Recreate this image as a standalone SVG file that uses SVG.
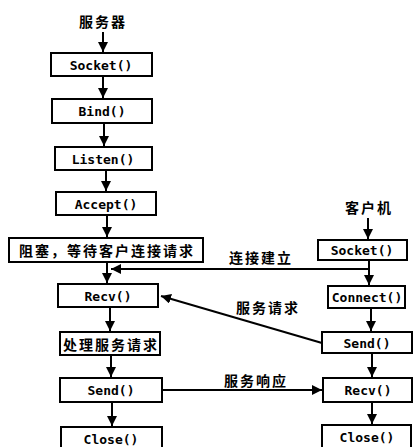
<svg xmlns="http://www.w3.org/2000/svg" width="414" height="447" viewBox="0 0 414 447">
<defs>
<marker id="ah" viewBox="0 0 10 10" refX="10" refY="5" markerWidth="10" markerHeight="10" markerUnits="userSpaceOnUse" orient="auto">
<path d="M0,0 L10,5 L0,10 Z" fill="#000"/>
</marker>
</defs>
<style>
.box{fill:#fff;stroke:#000;stroke-width:2}
.t{font-family:"DejaVu Sans Mono","Liberation Mono",monospace;font-weight:bold;font-size:13px;text-anchor:middle;dominant-baseline:central}
.c{font-family:"Noto Sans CJK SC",sans-serif;font-weight:bold;font-size:14px;letter-spacing:2px;text-anchor:middle;dominant-baseline:central}
.ln{stroke:#000;stroke-width:2;fill:none;marker-end:url(#ah)}
</style>
<rect width="414" height="447" fill="#fff"/>
<g id="connectors">
<line class="ln" x1="103" y1="32" x2="103" y2="52"/>
<line class="ln" x1="103" y1="76" x2="103" y2="98"/>
<line class="ln" x1="104" y1="123" x2="104" y2="146"/>
<line class="ln" x1="106" y1="170" x2="106" y2="191"/>
<line class="ln" x1="107" y1="215" x2="107" y2="237"/>
<line class="ln" x1="107" y1="262" x2="107" y2="283"/>
<line class="ln" x1="110" y1="307" x2="110" y2="331"/>
<line class="ln" x1="111" y1="355" x2="111" y2="377"/>
<line class="ln" x1="112" y1="402" x2="112" y2="426"/>
<line class="ln" x1="368" y1="218" x2="368" y2="239"/>
<line class="ln" x1="369" y1="260" x2="369" y2="285"/>
<line class="ln" x1="371" y1="308" x2="371" y2="331"/>
<line class="ln" x1="372" y1="353" x2="372" y2="377"/>
<line class="ln" x1="372" y1="402" x2="372" y2="424"/>
<line class="ln" x1="369" y1="269" x2="111" y2="269"/>
<line class="ln" x1="322" y1="343" x2="161" y2="296"/>
<line class="ln" x1="162" y1="390" x2="322" y2="390"/>
</g>
<text class="c" x="103" y="21">服务器</text>
<text class="c" x="369" y="207">客户机</text>
<text class="c" x="261" y="257">连接建立</text>
<text class="c" x="268" y="307">服务请求</text>
<text class="c" x="256" y="380">服务响应</text>
<g id="s_socket"><rect class="box" x="51" y="53" width="101" height="23"/><text class="t" x="101" y="65">Socket()</text></g>
<g id="s_bind"><rect class="box" x="52" y="99" width="100" height="24"/><text class="t" x="102" y="111">Bind()</text></g>
<g id="s_listen"><rect class="box" x="55" y="147" width="97" height="23"/><text class="t" x="103" y="159">Listen()</text></g>
<g id="s_accept"><rect class="box" x="56" y="192" width="100" height="23"/><text class="t" x="106" y="204">Accept()</text></g>
<g id="s_block"><rect class="box" x="9" y="238" width="194" height="24"/><text class="c" x="107" y="250">阻塞，等待客户连接请求</text></g>
<g id="s_recv"><rect class="box" x="58" y="284" width="100" height="23"/><text class="t" x="108" y="296">Recv()</text></g>
<g id="s_proc"><rect class="box" x="60" y="332" width="100" height="23"/><text class="c" x="111" y="344">处理服务请求</text></g>
<g id="s_send"><rect class="box" x="60" y="378" width="102" height="24"/><text class="t" x="111" y="390">Send()</text></g>
<g id="s_close"><rect class="box" x="61" y="427" width="101" height="24"/><text class="t" x="111" y="439">Close()</text></g>
<g id="c_socket"><rect class="box" x="318" y="240" width="89" height="20"/><text class="t" x="362" y="250">Socket()</text></g>
<g id="c_connect"><rect class="box" x="328" y="286" width="77" height="22"/><text class="t" x="367" y="297">Connect()</text></g>
<g id="c_send"><rect class="box" x="322" y="332" width="90" height="21"/><text class="t" x="367" y="343">Send()</text></g>
<g id="c_recv"><rect class="box" x="323" y="378" width="89" height="24"/><text class="t" x="368" y="390">Recv()</text></g>
<g id="c_close"><rect class="box" x="322" y="425" width="89" height="24"/><text class="t" x="367" y="437">Close()</text></g>
</svg>
